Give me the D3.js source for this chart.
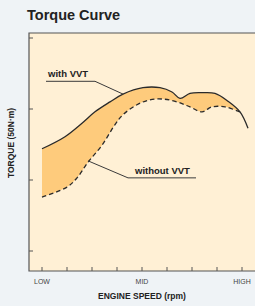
<!DOCTYPE html>
<html>
<head>
<meta charset="utf-8">
<script src="https://cdn.jsdelivr.net/npm/d3@7"></script>
<style>
  html, body { margin: 0; padding: 0; background: #eff3f6; }
  svg { display: block; font-family: "Liberation Sans", Arial, sans-serif; }
</style>
</head>
<body>
<svg></svg>
<script>
// engine speed positions (0 = LOW, 4 = MID, 8 = HIGH)
var xTicks = [0, 1, 2, 3, 4, 5, 6, 7, 8];
var xTickLabels = {0: "LOW", 4: "MID", 8: "HIGH"};
var yTicks = [1, 2, 3, 4];

var withSpeed = [0, 0.92, 1.6, 2.12, 2.72, 3.24, 4.04, 4.72, 5.2, 5.52, 5.92, 6.4, 6.92, 7.44, 7.92, 8.24];
var withTorque = [2.44, 2.61, 2.8, 2.96, 3.1, 3.21, 3.3, 3.3, 3.24, 3.15, 3.22, 3.23, 3.22, 3.11, 2.96, 2.73];

var withoutSpeed = [0, 1.0, 1.4, 1.84, 2.4, 2.92, 3.24, 3.8, 4.32, 4.84, 5.4, 5.92, 6.4, 6.8, 7.32, 7.84, 7.92];
var withoutTorque = [1.76, 1.9, 2.03, 2.25, 2.49, 2.78, 2.92, 3.06, 3.13, 3.14, 3.1, 3.03, 2.96, 3.03, 3.03, 2.97, 2.96];

// label leader lines
var withLeader = [[0.16, 3.39], [2.12, 3.39], [3.24, 3.21]];
var withoutLeader = [[1.84, 2.27], [3.44, 2.03], [6.16, 2.03]];

var width = 255, height = 306;
var plot = {left: 29, top: 33, right: 255, bottom: 271};

var svg = d3.select("svg").attr("width", width).attr("height", height);

var x = d3.scaleLinear().domain([0, 8]).range([42, 242]);
var y = d3.scaleLinear().domain([1, 4]).range([251, 38]);

// title
svg.append("text")
    .attr("x", 27).attr("y", 20)
    .attr("font-size", 14.5).attr("font-weight", "bold").attr("fill", "#222")
    .text("Torque Curve");

// plot background
svg.append("rect")
    .attr("x", plot.left).attr("y", plot.top)
    .attr("width", plot.right - plot.left).attr("height", plot.bottom - plot.top)
    .attr("fill", "#fff0d5");

var withData = withSpeed.map((s, i) => [s, withTorque[i]]);
var withoutData = withoutSpeed.map((s, i) => [s, withoutTorque[i]]);

var line = d3.line()
    .x(d => x(d[0]))
    .y(d => y(d[1]))
    .curve(d3.curveCatmullRom.alpha(0.5));

// band between curves
var mergeAt = withoutSpeed[withoutSpeed.length - 1];
var upper = withData.filter(d => d[0] <= mergeAt);
var lower = withoutData.slice().reverse();
svg.append("path")
    .attr("d", line(upper) + "L" + line(lower).slice(1) + "Z")
    .attr("fill", "#fecb7c");

svg.append("path")
    .datum(withoutData)
    .attr("d", line)
    .attr("fill", "none")
    .attr("stroke", "#2a2a2a")
    .attr("stroke-width", 1.3)
    .attr("stroke-dasharray", "4.5,3");

svg.append("path")
    .datum(withData)
    .attr("d", line)
    .attr("fill", "none")
    .attr("stroke", "#2a2a2a")
    .attr("stroke-width", 1.3);

// axes frame
var frame = svg.append("g").attr("stroke", "#555").attr("stroke-width", 1.2).attr("fill", "none");
frame.append("path")
    .attr("d", "M" + plot.right + "," + plot.top + "H" + plot.left + "V" + plot.bottom + "H" + plot.right);

var ticks = svg.append("g").attr("stroke", "#555").attr("stroke-width", 1);
ticks.selectAll(".xt").data(xTicks).enter().append("line")
    .attr("x1", d => x(d)).attr("x2", d => x(d))
    .attr("y1", plot.bottom).attr("y2", plot.bottom - 4);
ticks.selectAll(".yt").data(yTicks).enter().append("line")
    .attr("x1", plot.left).attr("x2", plot.left + 4)
    .attr("y1", d => y(d)).attr("y2", d => y(d));

svg.selectAll(".xl").data(xTicks.filter(d => xTickLabels[d])).enter().append("text")
    .attr("x", d => x(d)).attr("y", 284)
    .attr("text-anchor", "middle")
    .attr("font-size", 7).attr("fill", "#444")
    .text(d => xTickLabels[d]);

svg.append("text")
    .attr("x", 142).attr("y", 299)
    .attr("text-anchor", "middle")
    .attr("font-size", 8.5).attr("font-weight", "bold").attr("fill", "#222")
    .text("ENGINE SPEED (rpm)");

svg.append("text")
    .attr("transform", "translate(13.5,143) rotate(-90)")
    .attr("text-anchor", "middle")
    .attr("font-size", 8.5).attr("font-weight", "bold").attr("fill", "#222")
    .text("TORQUE (50N·m)");

// annotations
var leader = d3.line().x(d => x(d[0])).y(d => y(d[1]));
svg.append("path").attr("d", leader(withLeader))
    .attr("fill", "none").attr("stroke", "#3a3a3a").attr("stroke-width", 1);
svg.append("path").attr("d", leader(withoutLeader))
    .attr("fill", "none").attr("stroke", "#3a3a3a").attr("stroke-width", 1);

svg.append("text")
    .attr("x", x(0.24)).attr("y", y(3.45))
    .attr("font-size", 9.5).attr("font-weight", "bold").attr("fill", "#222")
    .text("with VVT");
svg.append("text")
    .attr("x", x(3.72)).attr("y", y(2.085))
    .attr("font-size", 9.5).attr("font-weight", "bold").attr("fill", "#222")
    .text("without VVT");
</script>
</body>
</html>
